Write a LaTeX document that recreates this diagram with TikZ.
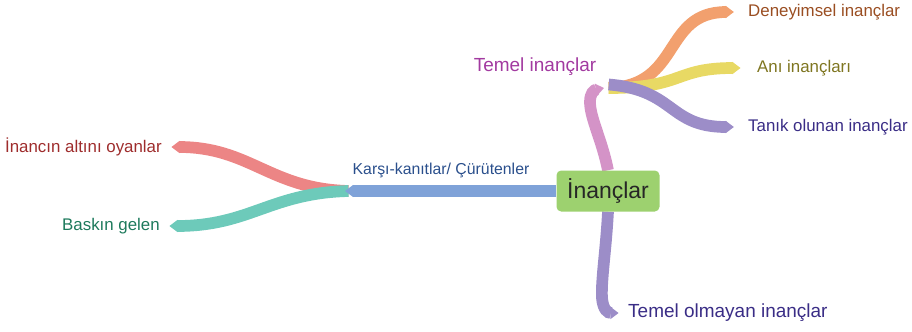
\documentclass[tikz,border=0pt]{standalone}
\usepackage{fontspec}
\setmainfont{Liberation Sans}
\usetikzlibrary{arrows.meta,backgrounds}

\definecolor{rootfill}{HTML}{9DD16F}
\definecolor{ribblue}{HTML}{7FA2D8}
\definecolor{ribred}{HTML}{EC8585}
\definecolor{ribteal}{HTML}{6DCABA}
\definecolor{ribpink}{HTML}{D493C7}
\definecolor{riborange}{HTML}{F2A06E}
\definecolor{ribyellow}{HTML}{E8D964}
\definecolor{ribpurple}{HTML}{9C8DC8}
\definecolor{txtbrown}{HTML}{9A4E22}
\definecolor{txtolive}{HTML}{7E7520}
\definecolor{txtindigo}{HTML}{3A2D86}
\definecolor{txtmagenta}{HTML}{A23AA0}
\definecolor{txtred}{HTML}{9E2C2C}
\definecolor{txtgreen}{HTML}{1D7A5C}
\definecolor{txtblue}{HTML}{2A4F8C}

\begin{document}
\begin{tikzpicture}[x=0.03cm,y=-0.03cm,
  rib/.style={line width=10pt,draw=#1,-{Triangle[length=7pt,width=0pt 1]},color=#1},
  leaf/.style={inner sep=0pt,font=\fontsize{14.4}{16}\selectfont},
  big/.style={inner sep=0pt,font=\fontsize{16.2}{18}\selectfont}]
\useasboundingbox (0,0) rectangle (912,331);
\node [fill=rootfill,rounded corners=4pt,minimum width=3.09cm,minimum height=1.23cm,
  text=black!85,font=\fontsize{19.6}{22}\selectfont] (root) at (608,191) {İnançlar};
% children of the root
\node [big,text=txtmagenta] (temel) at (535,67) {Temel inançlar};
\node [big,text=txtindigo,anchor=west] (olmayan) at (628,313) {Temel olmayan inançlar};
\node [leaf,text=txtblue,font=\fontsize{13.5}{15}\selectfont] (karsi) at (441,170) {Karşı-kanıtlar/ Çürütenler};
% leaves
\node [leaf,text=txtbrown,anchor=west] (deney) at (748,12) {Deneyimsel inançlar};
\node [leaf,text=txtolive,anchor=west] (ani) at (757,68) {Anı inançları};
\node [leaf,text=txtindigo,anchor=west] (tanik) at (748,127) {Tanık olunan inançlar};
\node [leaf,text=txtred,anchor=east] (oyan) at (162,147) {İnancın altını oyanlar};
\node [leaf,text=txtgreen,anchor=east] (baskin) at (160,226) {Baskın gelen};
% ribbon ends
\coordinate (kk) at (345,191);
\coordinate (tb) at (604,88);
\begin{scope}[on background layer]
\draw [rib=ribred] ([xshift=3pt]kk) .. controls (270,189) and (250,147) .. ([xshift=8pt]oyan.east);
\draw [rib=ribteal] ([xshift=3pt]kk) .. controls (270,193) and (250,226) .. ([xshift=8pt]baskin.east);
\draw [rib=ribblue] (root.west) -- (kk);
\draw [rib=ribpink] (root.north) .. controls (602,140) and (590,118) .. (590,102)
  .. controls (590,93) and (594,90) .. (tb);
\draw [rib=riborange] ([xshift=4]tb) .. controls (682,86) and (662,12) .. ([xshift=-12pt]deney.west);
\draw [rib=ribyellow] ([xshift=4]tb) .. controls (684,88) and (674,68) .. ([xshift=-14pt]ani.west);
\draw [rib=ribpurple] ([xshift=4,yshift=3]tb) .. controls (676,90) and (668,127) .. ([xshift=-12pt]tanik.west);
\draw [rib=ribpurple] (root.south) .. controls (606,250) and (601,280) .. (602,298)
  .. controls (603,310) and (608,313) .. ([xshift=-8pt]olmayan.west);
\end{scope}
\end{tikzpicture}
\end{document}
